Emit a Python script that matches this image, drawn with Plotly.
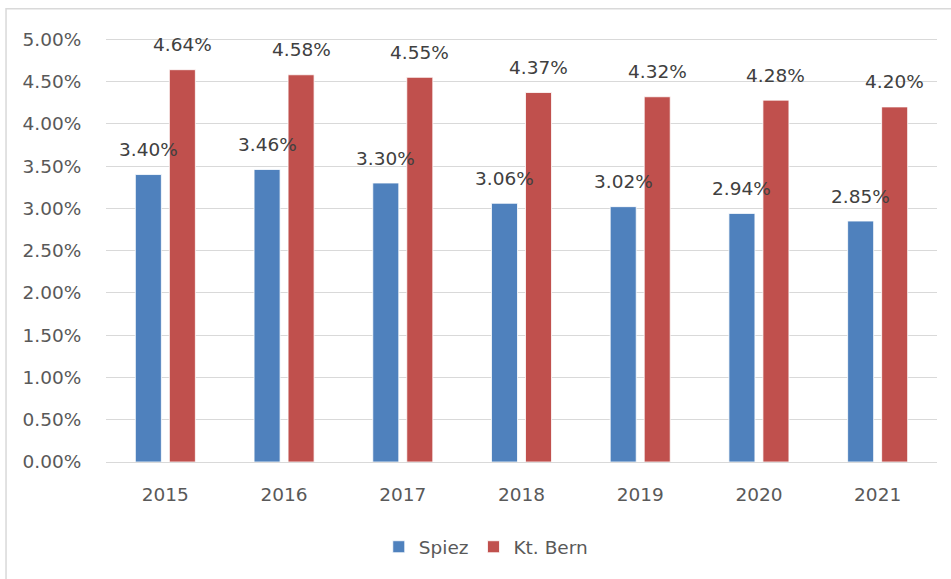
import plotly.graph_objects as go

years = ["2015", "2016", "2017", "2018", "2019", "2020", "2021"]
spiez = [0.0340, 0.0346, 0.0330, 0.0306, 0.0302, 0.0294, 0.0285]
bern = [0.0464, 0.0458, 0.0455, 0.0437, 0.0432, 0.0428, 0.0420]
series_names = ["Spiez", "Kt. Bern"]
colors = ["#4F81BD", "#C0504D"]

FONT = "DejaVu Sans"
TXT = "#595959"
FS = 18.5

fig = go.Figure()
for name, vals, col in zip(series_names, [spiez, bern], colors):
    fig.add_trace(go.Bar(
        x=years, y=vals, name=name,
        marker=dict(color=col, line=dict(color="#ffffff", width=0.8)),
    ))

annotations = []
for vals, shift in [(spiez, -17), (bern, 17)]:
    for i, v in enumerate(vals):
        annotations.append(dict(
            x=i, y=v, xref="x", yref="y", text=f"{v*100:.2f}%",
            showarrow=False, xshift=shift, yshift=25, yanchor="middle",
            font=dict(family=FONT, size=FS, color="#404040"),
        ))

fig.update_layout(
    width=951, height=579,
    margin=dict(l=106, r=14, t=38, b=117),
    paper_bgcolor="white", plot_bgcolor="white",
    barmode="group", bargap=0.427, bargroupgap=0.235,
    font=dict(family=FONT, size=FS, color=TXT),
    showlegend=True,
    legend=dict(orientation="h", x=0.457, xanchor="center", y=-0.201, yanchor="middle",
                font=dict(family=FONT, size=FS, color=TXT)),
    annotations=annotations,
    shapes=[dict(type="rect", xref="paper", yref="paper", x0=-0.1203, x1=1.03,
                 y0=-0.31, y1=1.069, line=dict(color="#d9d9d9", width=1.5), layer="below")],
)
fig.update_yaxes(range=[0, 0.05015], dtick=0.005, tick0=0, tickformat=".2%",
                 autorange=False,
                 showgrid=True, gridcolor="#d9d9d9", gridwidth=1.3,
                 zeroline=False, showline=False,
                 ticks="outside", ticklen=20, tickcolor="rgba(0,0,0,0)",
                 tickfont=dict(family=FONT, size=FS, color=TXT))
fig.update_xaxes(type="category", range=[-0.5, len(years) - 0.5], autorange=False,
                 showgrid=False, showline=True, linecolor="#d9d9d9",
                 linewidth=1.3,
                 ticks="outside", ticklen=16, tickcolor="rgba(0,0,0,0)",
                 tickfont=dict(family=FONT, size=FS, color=TXT))

fig.write_html("out.html", config={"displayModeBar": False},
               post_script="document.body.style.margin='0';")
